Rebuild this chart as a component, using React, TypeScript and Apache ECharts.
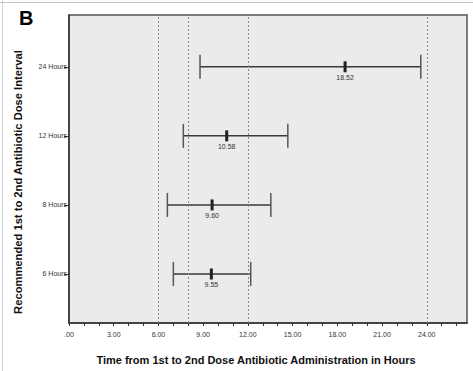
import React, { useEffect, useRef } from "react";
import * as echarts from "echarts";

const categories = ["6 Hours", "8 Hours", "12 Hours", "24 Hours"];
const lowValues = [7.0, 6.6, 7.67, 8.79];
const meanValues = [9.55, 9.6, 10.58, 18.52];
const highValues = [12.19, 13.54, 14.68, 23.6];
const meanLabels = ["9.55", "9.60", "10.58", "18.52"];
const xLabelValues = [0, 3, 6, 9, 12, 15, 18, 21, 24];
const xTickValues = [0, 1, 2, 3, 4, 5, 6, 7, 8, 9, 10, 11, 12, 13, 14, 15, 16, 17, 18, 19, 20, 21, 22, 23, 24, 25, 26];
const refLines = [6, 8, 12, 24];

export default function App() {
  const ref = useRef<HTMLDivElement>(null);
  useEffect(() => {
    if (!ref.current) return;
    const chart = echarts.init(ref.current, null, { renderer: "svg" });
    const data = categories.map((c, i) => [i + 1, lowValues[i], meanValues[i], highValues[i], i]);
    chart.setOption({
      animation: false,
      backgroundColor: "#ffffff",
      grid: {
        left: 69,
        top: 15,
        right: 6,
        bottom: 48,
        show: true,
        backgroundColor: "#ebebeb",
        borderColor: "#555",
        borderWidth: 1.5,
      },
      xAxis: {
        type: "value",
        min: 0,
        max: 26.7,
        splitLine: { show: false },
        axisLine: { show: true, lineStyle: { color: "#333", width: 1.5 } },
        axisTick: {
          show: true,
          customValues: xTickValues,
          length: 3,
          lineStyle: { color: "#333", width: 1 },
        },
        axisLabel: {
          customValues: xLabelValues,
          formatter: (v: number) => (v === 0 ? ".00" : v.toFixed(2)),
          fontFamily: "Liberation Sans, Arial",
          fontSize: 7,
          color: "#333",
          margin: 8,
        },
      },
      yAxis: {
        type: "value",
        min: 0.29,
        max: 4.75,
        splitLine: { show: false },
        axisLine: { show: true, lineStyle: { color: "#333", width: 1.5 } },
        axisTick: {
          show: true,
          customValues: [1, 2, 3, 4],
          length: 5,
          lineStyle: { color: "#333", width: 1 },
        },
        axisLabel: {
          customValues: [1, 2, 3, 4],
          formatter: (v: number) => categories[Math.round(v) - 1] ?? "",
          fontFamily: "Liberation Sans, Arial",
          fontSize: 7,
          color: "#333",
          margin: 2,
        },
      },
      graphic: [
        { type: "line", shape: { x1: 0, y1: 2.5, x2: 473, y2: 2.5 }, style: { stroke: "#c4c4c4", lineWidth: 1.2 } },
        { type: "line", shape: { x1: 2.5, y1: 0, x2: 2.5, y2: 371 }, style: { stroke: "#d4d4d4", lineWidth: 1 } },
        {
          type: "text",
          x: 19,
          y: 8,
          style: {
            text: "B",
            fontFamily: "Liberation Sans, Arial",
            fontWeight: "bold",
            fontSize: 20,
            fill: "#000",
            align: "left",
            verticalAlign: "top",
          },
        },
        {
          type: "text",
          x: 18,
          y: 182,
          rotation: Math.PI / 2,
          style: {
            text: "Recommended 1st to 2nd Antibiotic Dose Interval",
            fontFamily: "Liberation Sans, Arial",
            fontWeight: "bold",
            fontSize: 11.2,
            fill: "#111",
            align: "center",
            verticalAlign: "middle",
          },
        },
        {
          type: "text",
          x: 256,
          y: 360,
          style: {
            text: "Time from 1st to 2nd Dose Antibiotic Administration in Hours",
            fontFamily: "Liberation Sans, Arial",
            fontWeight: "bold",
            fontSize: 11,
            fill: "#111",
            align: "center",
            verticalAlign: "middle",
          },
        },
      ],
      series: [
        {
          type: "scatter",
          data: [],
          silent: true,
          markLine: {
            symbol: "none",
            silent: true,
            label: { show: false },
            lineStyle: { color: "#8a8a8a", type: [2, 2], width: 1 },
            data: refLines.map((v) => ({ xAxis: v })),
          },
        },
        {
          type: "custom",
          data,
          renderItem: (params: any, api: any) => {
            const y = api.value(0);
            const lo = api.coord([api.value(1), y]);
            const mn = api.coord([api.value(2), y]);
            const hi = api.coord([api.value(3), y]);
            const idx = api.value(4);
            return {
              type: "group",
              children: [
                { type: "line", shape: { x1: lo[0], y1: lo[1], x2: hi[0], y2: hi[1] }, style: { stroke: "#3a3a3a", lineWidth: 1.5 } },
                { type: "line", shape: { x1: lo[0], y1: lo[1] - 12, x2: lo[0], y2: lo[1] + 12 }, style: { stroke: "#555", lineWidth: 1.5 } },
                { type: "line", shape: { x1: hi[0], y1: hi[1] - 12, x2: hi[0], y2: hi[1] + 12 }, style: { stroke: "#555", lineWidth: 1.5 } },
                { type: "line", shape: { x1: mn[0], y1: mn[1] - 5.5, x2: mn[0], y2: mn[1] + 5.5 }, style: { stroke: "#222", lineWidth: 3 } },
                {
                  type: "text",
                  x: mn[0],
                  y: mn[1] + 11,
                  style: {
                    text: meanLabels[idx],
                    fontFamily: "Liberation Sans, Arial",
                    fontSize: 7,
                    fill: "#333",
                    align: "center",
                    verticalAlign: "middle",
                  },
                },
              ],
            };
          },
        },
      ],
    });
    return () => chart.dispose();
  }, []);
  return <div ref={ref} style={{ width: 473, height: 371, position: "absolute", left: 0, top: 0 }} />;
}
